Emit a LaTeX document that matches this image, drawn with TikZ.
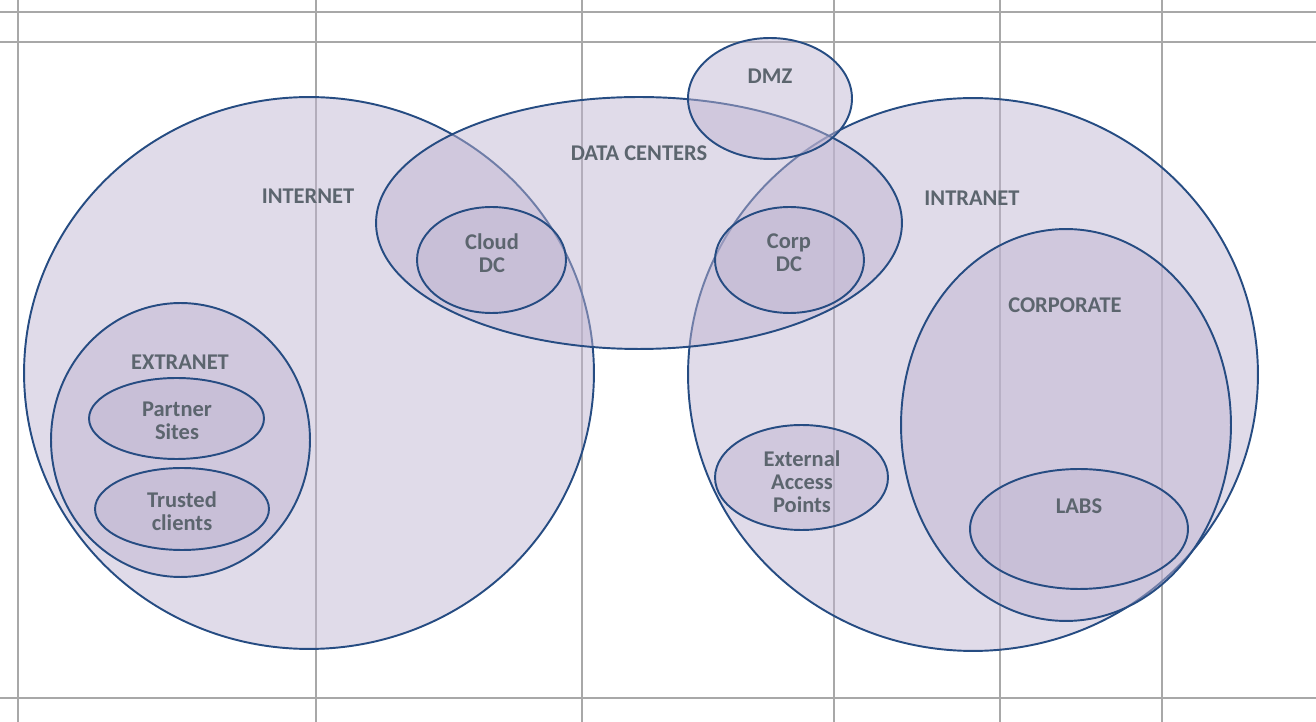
\documentclass[tikz,border=0pt]{standalone}
\usepackage{fontspec}
\setmainfont{Carlito}
\usetikzlibrary{shapes.geometric}
\definecolor{gridgray}{RGB}{168,168,168}
\definecolor{zoneline}{RGB}{38,76,130}
\definecolor{zonefill}{RGB}{191,180,209}
\definecolor{labeltext}{RGB}{92,101,110}
\begin{document}
\begin{tikzpicture}[x=0.02cm,y=-0.02cm]
	\tikzstyle{zone} = [ellipse,draw=zoneline,line width=1.1pt,fill=zonefill,fill opacity=0.48,inner sep=0,outer sep=0]
	\tikzstyle{tag} = [text=labeltext,text opacity=1,font=\fontsize{12.8}{13.1}\selectfont\bfseries,align=center,inner sep=0]
	\useasboundingbox (0,0) rectangle (1316,722);
	% sheet grid behind
	\foreach \gx in {18,316,582,834,1000,1162}
		\draw [gridgray, line width=1pt] (\gx,0) -- (\gx,722);
	\foreach \gy in {12,42,698}
		\draw [gridgray, line width=1pt] (0,\gy) -- (1316,\gy);
	% big zones
	\node [zone, minimum width=11.4cm, minimum height=11.04cm] (internet) at (309,373) {};
	\node [zone, minimum width=11.4cm, minimum height=11.06cm] (intranet) at (973,374.5) {};
	\node [zone, minimum width=10.52cm, minimum height=5.04cm] (datacenters) at (639,223) {};
	\node [zone, minimum width=3.28cm, minimum height=2.42cm] (dmz) at (770,98.5) {};
	% inner zones
	\node [zone, minimum width=5.18cm, minimum height=5.48cm] (extranet) at (180.5,440) {};
	\node [zone, minimum width=3.5cm, minimum height=1.62cm] (partner) at (176.5,418.5) {};
	\node [zone, minimum width=3.48cm, minimum height=1.64cm] (trusted) at (182,509) {};
	\node [zone, minimum width=2.98cm, minimum height=2.12cm] (clouddc) at (491.5,260) {};
	\node [zone, minimum width=2.98cm, minimum height=2.12cm] (corpdc) at (789.5,260) {};
	\node [zone, minimum width=6.6cm, minimum height=7.84cm] (corporate) at (1066,425) {};
	\node [zone, minimum width=4.36cm, minimum height=2.4cm] (labs) at (1079,529) {};
	\node [zone, minimum width=3.46cm, minimum height=2.1cm] (extaccess) at (801.5,477.5) {};
	% labels
	\node [tag] (internet-t) at (308,196) {INTERNET};
	\node [tag] (intranet-t) at (972,198) {INTRANET};
	\node [tag] (datacenters-t) at (639,153) {DATA CENTERS};
	\node [tag] (dmz-t) at (770,76) {DMZ};
	\node [tag] (extranet-t) at (180,362) {EXTRANET};
	\node [tag] (partner-t) at (177,421) {Partner\\Sites};
	\node [tag] (trusted-t) at (182,511) {Trusted\\clients};
	\node [tag] (clouddc-t) at (492,253) {Cloud\\DC};
	\node [tag] (corpdc-t) at (789,253) {Corp\\DC};
	\node [tag] (corporate-t) at (1065,305) {CORPORATE};
	\node [tag] (labs-t) at (1079,506) {LABS};
	\node [tag] (extaccess-t) at (802,482) {External\\Access\\Points};
\end{tikzpicture}
\end{document}
